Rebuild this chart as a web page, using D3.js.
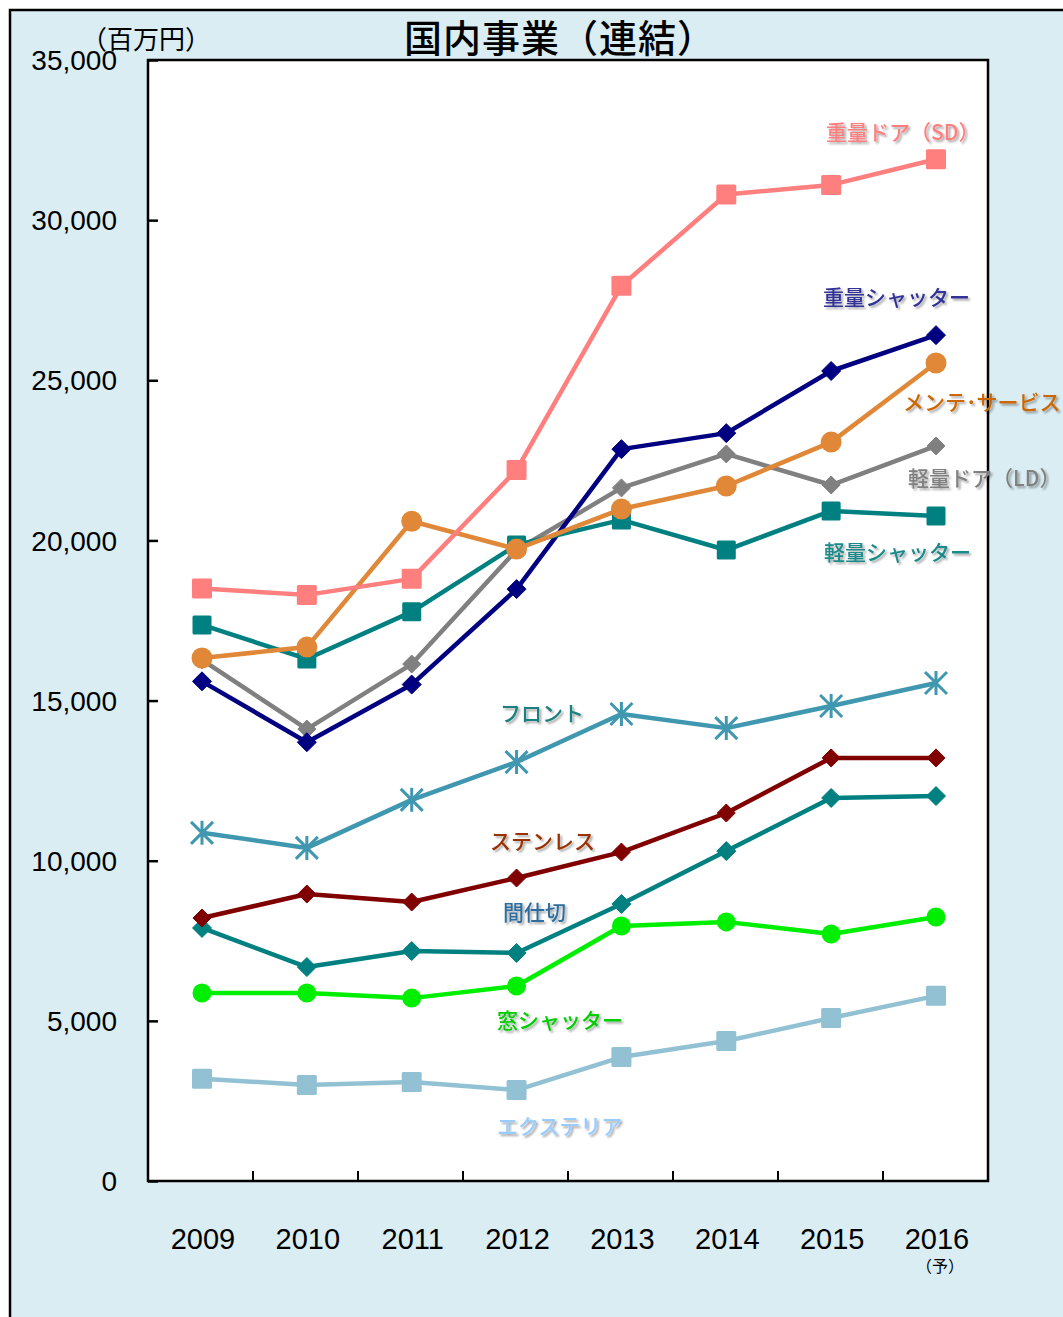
<!DOCTYPE html>
<html><head><meta charset="utf-8">
<script src="https://cdn.jsdelivr.net/npm/d3@7/dist/d3.min.js"></script>
<style>body{margin:0;background:#fff;}svg{display:block;}</style>
</head><body>
<script>
const years = ["2009","2010","2011","2012","2013","2014","2015","2016"];
const yTicks = [0,5000,10000,15000,20000,25000,30000,35000];

const sdDoor      = [18500,18300,18800,22200,27950,30800,31100,31900];
const heavyShut   = [15600,13700,15500,18480,22850,23350,25290,26410];
const maintenance = [16330,16670,20600,19730,20980,21700,23070,25540];
const ldDoor      = [16270,14110,16140,19700,21640,22700,21730,22950];
const lightShut   = [17360,16300,17770,19860,20640,19700,20920,20760];
const front       = [10870,10400,11900,13080,14580,14140,14830,15550];
const stainless   = [8210,8960,8710,9460,10270,11490,13210,13210];
const partition   = [7900,6680,7180,7120,8650,10300,11960,12020];
const windowShut  = [5870,5870,5710,6090,7960,8090,7710,8240];
const exterior    = [3190,3000,3090,2840,3870,4370,5090,5780];

const seriesNames = ["エクステリア","窓シャッター","間仕切","ステンレス","フロント","軽量ドア（LD）","重量シャッター","軽量シャッター","メンテ･サービス","重量ドア（SD）"];
const seriesValues = [exterior, windowShut, partition, stainless, front, ldDoor, heavyShut, lightShut, maintenance, sdDoor];

// styles (kept separate from data)
const styles = [
  {color:"#93C1D4", marker:"square", size:20, label:"#99CCFF", lx:497, ly:1126},
  {color:"#00EE00", marker:"circle", size:19, label:"#00CC00", lx:497, ly:1020},
  {color:"#008080", marker:"diamond", size:19, label:"#2E6E9E", lx:503, ly:912},
  {color:"#800000", marker:"diamond", size:18, label:"#993300", lx:490, ly:841},
  {color:"#4097B0", marker:"star", size:22, label:"#1F8080", lx:500, ly:713},
  {color:"#808080", marker:"diamond", size:18, label:"#808080", lx:908, ly:478},
  {color:"#000080", marker:"diamond", size:19, label:"#333399", lx:823, ly:297},
  {color:"#008080", marker:"square", size:19, label:"#1A8A8A", lx:824, ly:552},
  {color:"#E08838", marker:"circle", size:21, label:"#CC6600", lx:903, ly:402},
  {color:"#FF7F7F", marker:"square", size:20, label:"#FF7F7F", lx:826, ly:132}
];

const W = 1063, H = 1317;
const plot = {l:148, t:60, r:988, b:1181};

const svg = d3.select("body").append("svg").attr("width",W).attr("height",H);
const defs = svg.append("defs");
const f = defs.append("filter").attr("id","shadow").attr("x","-10%").attr("y","-30%").attr("width","130%").attr("height","180%");
f.append("feDropShadow").attr("dx",2).attr("dy",2).attr("stdDeviation",1.2).attr("flood-color","#000").attr("flood-opacity",0.35);

svg.append("rect").attr("x",10).attr("y",10).attr("width",W+20).attr("height",H+20)
  .attr("fill","#DAEDF3").attr("stroke","#000").attr("stroke-width",2.5);

svg.append("rect").attr("x",plot.l).attr("y",plot.t).attr("width",plot.r-plot.l).attr("height",plot.b-plot.t)
  .attr("fill","#fff");

const x = d3.scalePoint().domain(years).range([202,936]);
const xb = d3.scaleBand().domain(years).range([plot.l, plot.r]);
const y = d3.scaleLinear().domain([0,35000]).range([plot.b, plot.t]);

// y axis ticks (inward)
const yAxis = d3.axisRight(y).tickValues(yTicks).tickSize(10).tickFormat("");
const gy = svg.append("g").attr("transform",`translate(${plot.l},0)`).call(yAxis);
gy.select(".domain").remove();
gy.selectAll("line").attr("stroke","#000").attr("stroke-width",2.5);

svg.append("g").selectAll("text").data(yTicks).join("text")
  .attr("x",117).attr("y",d=>y(d)).attr("dy","0.36em")
  .attr("text-anchor","end").attr("font-family","Liberation Sans, Arial, sans-serif")
  .attr("font-size",28).attr("fill","#000").text(d3.format(","));

// x axis ticks at band boundaries (upward)
const bounds = years.slice(1).map(d=>xb(d));
svg.append("g").selectAll("line").data(bounds).join("line")
  .attr("x1",d=>d).attr("x2",d=>d).attr("y1",plot.b).attr("y2",plot.b-10)
  .attr("stroke","#000").attr("stroke-width",2);

svg.append("g").selectAll("text").data(years).join("text")
  .attr("x",d=>x(d)+1).attr("y",1249).attr("text-anchor","middle")
  .attr("font-family","Liberation Sans, Arial, sans-serif").attr("font-size",29)
  .attr("fill","#000").text(d=>d);
svg.append("text").attr("x",x("2016")+4).attr("y",1272).attr("text-anchor","middle")
  .attr("font-family","Noto Sans CJK JP, sans-serif").attr("font-size",16).text("（予）");

// plot border
svg.append("rect").attr("x",plot.l).attr("y",plot.t).attr("width",plot.r-plot.l).attr("height",plot.b-plot.t)
  .attr("fill","none").attr("stroke","#000").attr("stroke-width",2.5);

// series
const line = d3.line().x((d,i)=>x(years[i])).y(d=>y(d));
seriesValues.forEach((vals,si)=>{
  const st = styles[si];
  const g = svg.append("g");
  g.append("path").datum(vals).attr("d",line).attr("fill","none")
    .attr("stroke",st.color).attr("stroke-width",4.5).attr("stroke-linejoin","round");
  const pts = g.selectAll("g.m").data(vals).join("g")
    .attr("transform",(d,i)=>`translate(${x(years[i])},${y(d)})`);
  const s = st.size;
  if (st.marker==="square") {
    pts.append("rect").attr("x",-s/2).attr("y",-s/2).attr("width",s).attr("height",s).attr("rx",1.5).attr("fill",st.color);
  } else if (st.marker==="circle") {
    pts.append("circle").attr("r",s/2).attr("fill",st.color);
  } else if (st.marker==="diamond") {
    const h = s/2;
    pts.append("path").attr("d",`M0,${-h}L${h},0L0,${h}L${-h},0Z`).attr("fill",st.color).attr("stroke",st.color).attr("stroke-width",1).attr("stroke-linejoin","round");
  } else if (st.marker==="star") {
    const h = s/2;
    pts.append("path").attr("d",`M${-h},${-h}L${h},${h}M${-h},${h}L${h},${-h}M0,${-h-1}L0,${h+1}`)
      .attr("stroke",st.color).attr("stroke-width",3).attr("fill","none");
  }
  svg.append("text").attr("x",st.lx).attr("y",st.ly).attr("dy","0.36em")
    .attr("font-family","Noto Sans CJK JP, sans-serif").attr("font-size",21).attr("font-weight",500)
    .attr("fill",st.label).attr("filter","url(#shadow)").text(seriesNames[si]);
});

// title and unit
svg.append("text").attr("x",560).attr("y",38).attr("dy","0.36em").attr("text-anchor","middle")
  .attr("font-family","Noto Sans CJK JP, sans-serif").attr("font-size",38).attr("font-weight",500)
  .attr("letter-spacing",1).attr("fill","#000").text("国内事業（連結）");
svg.append("text").attr("x",81).attr("y",40).attr("dy","0.36em")
  .attr("font-family","Noto Sans CJK JP, sans-serif").attr("font-size",26).attr("fill","#000").text("（百万円）");
</script>
</body></html>
